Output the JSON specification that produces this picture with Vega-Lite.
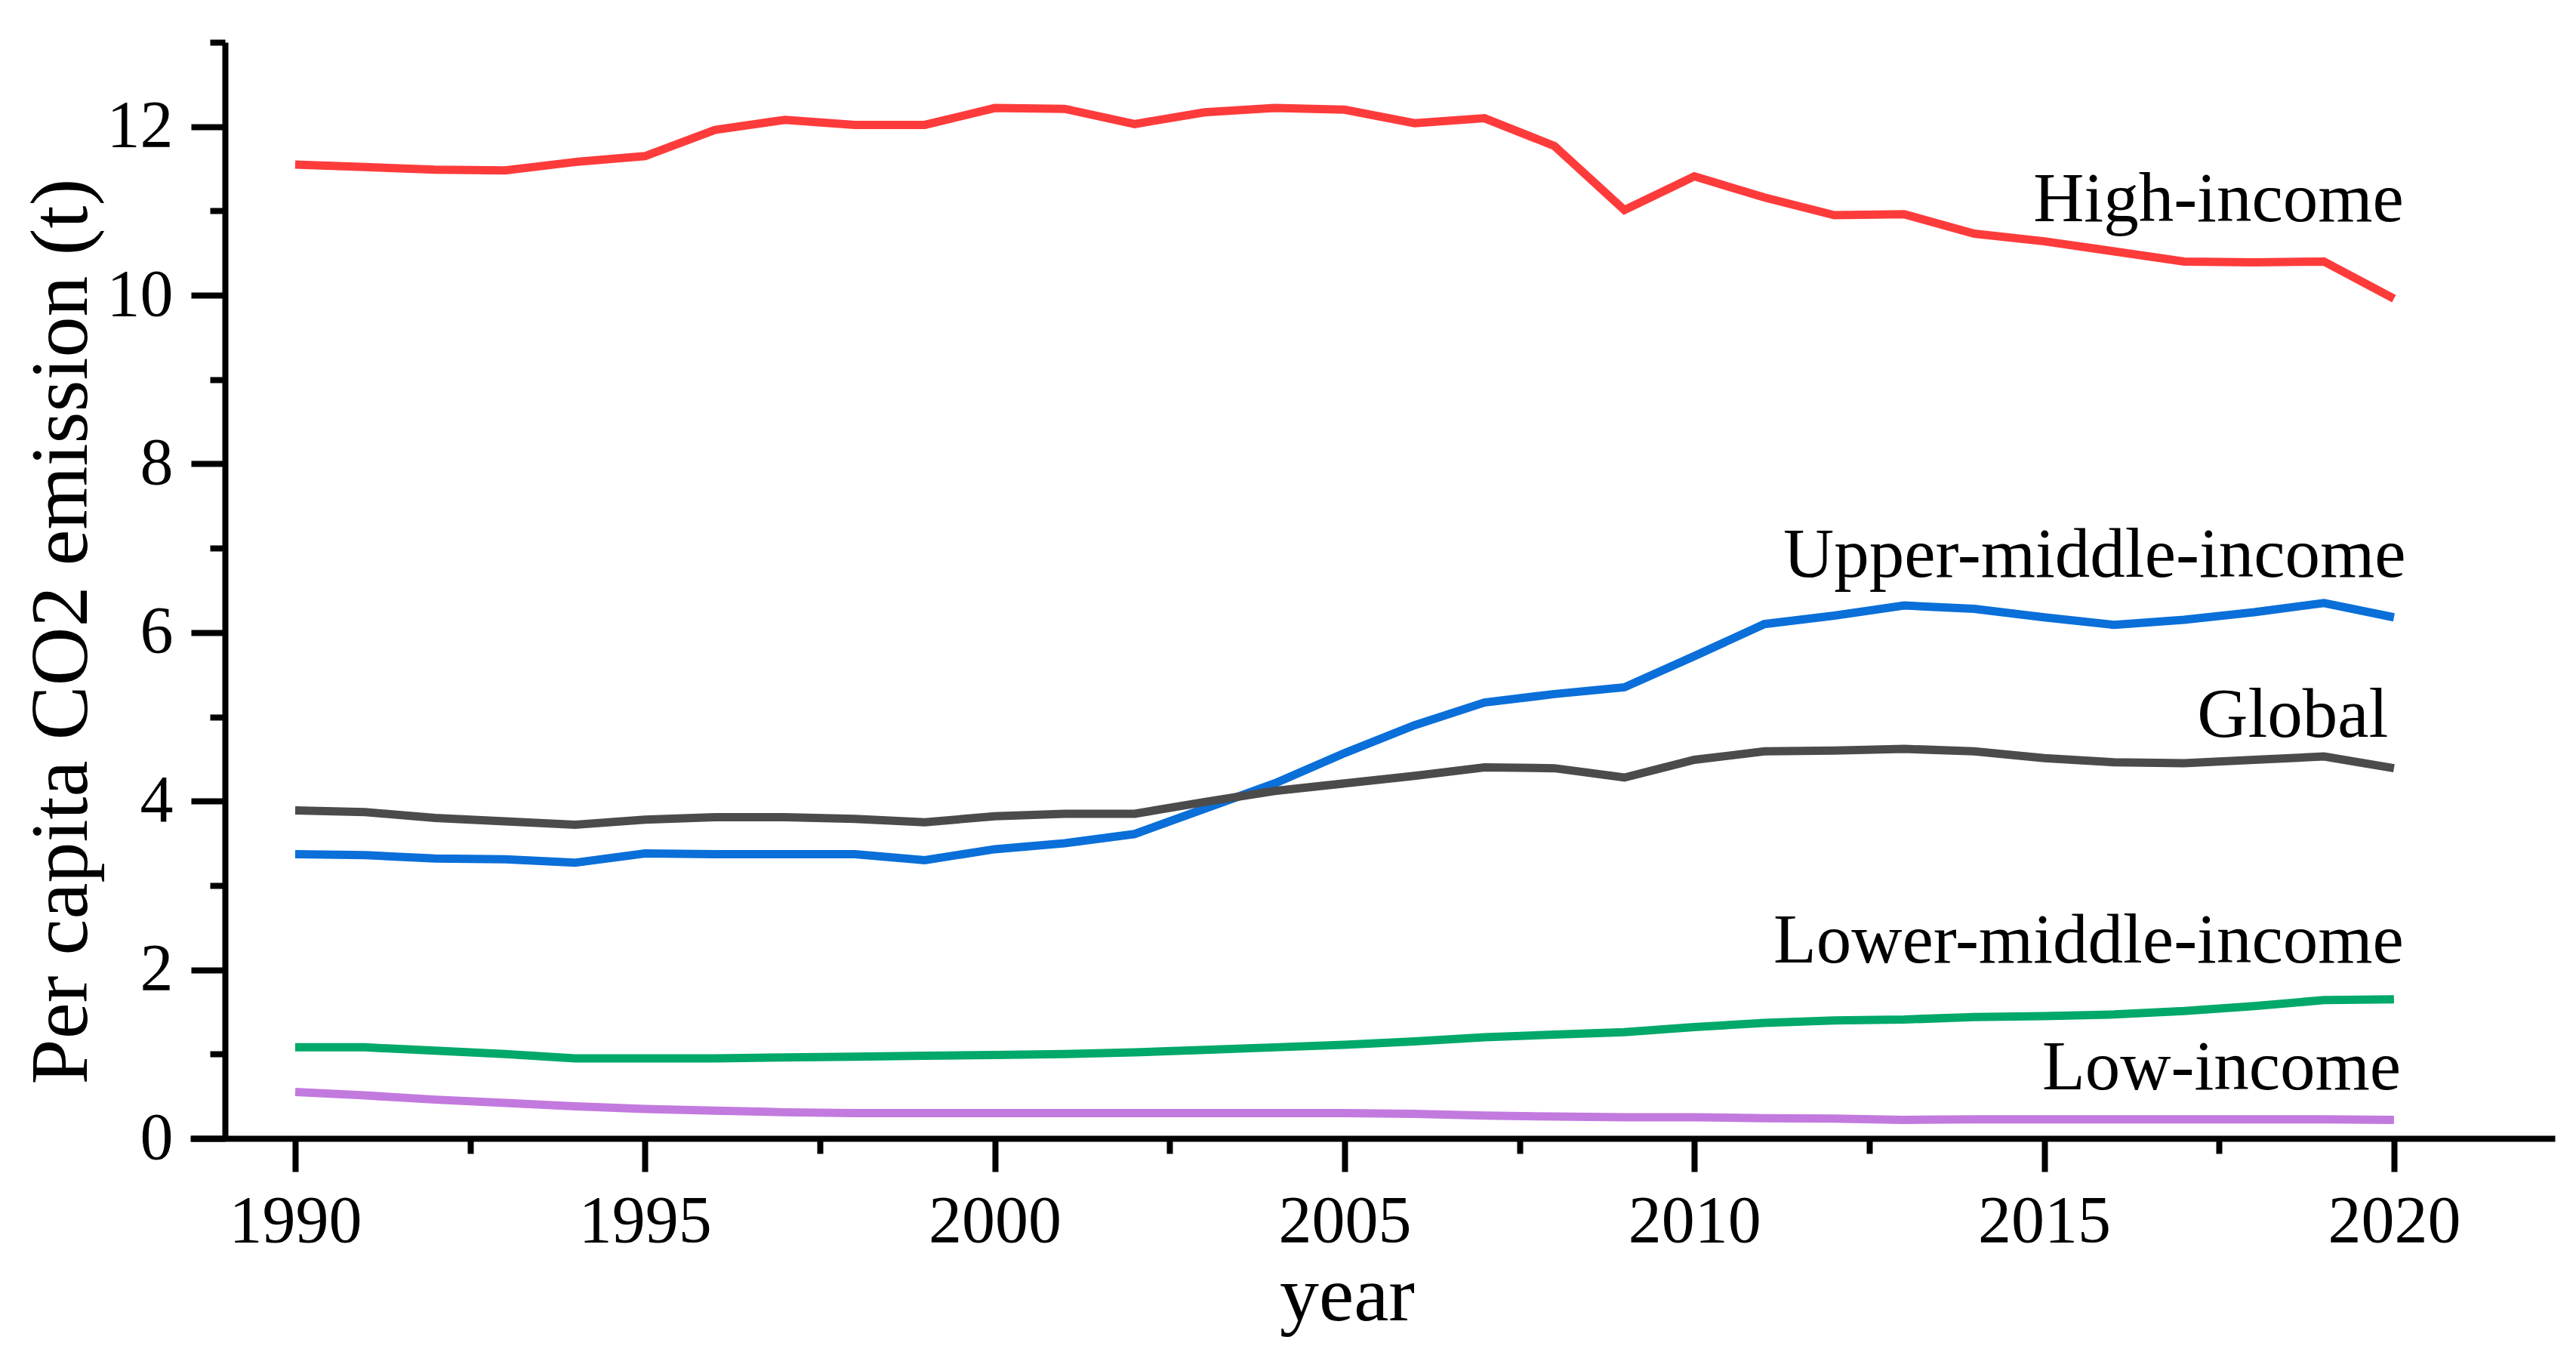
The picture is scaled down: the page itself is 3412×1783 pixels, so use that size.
{
"$schema": "https://vega.github.io/schema/vega-lite/v6.json",
"width": 3132, "height": 1452,
"autosize": {"type": "none"},
"padding": {"left": 252, "top": 56, "right": 28, "bottom": 275},
"background": "white",
"config": {"view": {"stroke": null}, "font": "Liberation Serif"},
"datasets": {
"series": [
{"year":1990,"group":"High-income","value":11.55},{"year":1991,"group":"High-income","value":11.52},{"year":1992,"group":"High-income","value":11.49},{"year":1993,"group":"High-income","value":11.48},{"year":1994,"group":"High-income","value":11.58},{"year":1995,"group":"High-income","value":11.65},{"year":1996,"group":"High-income","value":11.96},{"year":1997,"group":"High-income","value":12.08},{"year":1998,"group":"High-income","value":12.02},{"year":1999,"group":"High-income","value":12.02},{"year":2000,"group":"High-income","value":12.22},{"year":2001,"group":"High-income","value":12.21},{"year":2002,"group":"High-income","value":12.03},{"year":2003,"group":"High-income","value":12.17},{"year":2004,"group":"High-income","value":12.22},{"year":2005,"group":"High-income","value":12.20},{"year":2006,"group":"High-income","value":12.04},{"year":2007,"group":"High-income","value":12.10},{"year":2008,"group":"High-income","value":11.77},{"year":2009,"group":"High-income","value":11.01},{"year":2010,"group":"High-income","value":11.41},{"year":2011,"group":"High-income","value":11.16},{"year":2012,"group":"High-income","value":10.95},{"year":2013,"group":"High-income","value":10.96},{"year":2014,"group":"High-income","value":10.73},{"year":2015,"group":"High-income","value":10.64},{"year":2016,"group":"High-income","value":10.52},{"year":2017,"group":"High-income","value":10.40},{"year":2018,"group":"High-income","value":10.39},{"year":2019,"group":"High-income","value":10.40},{"year":2020,"group":"High-income","value":9.96},
{"year":1990,"group":"Upper-middle-income","value":3.37},{"year":1991,"group":"Upper-middle-income","value":3.36},{"year":1992,"group":"Upper-middle-income","value":3.32},{"year":1993,"group":"Upper-middle-income","value":3.31},{"year":1994,"group":"Upper-middle-income","value":3.27},{"year":1995,"group":"Upper-middle-income","value":3.38},{"year":1996,"group":"Upper-middle-income","value":3.37},{"year":1997,"group":"Upper-middle-income","value":3.37},{"year":1998,"group":"Upper-middle-income","value":3.37},{"year":1999,"group":"Upper-middle-income","value":3.30},{"year":2000,"group":"Upper-middle-income","value":3.43},{"year":2001,"group":"Upper-middle-income","value":3.50},{"year":2002,"group":"Upper-middle-income","value":3.61},{"year":2003,"group":"Upper-middle-income","value":3.91},{"year":2004,"group":"Upper-middle-income","value":4.21},{"year":2005,"group":"Upper-middle-income","value":4.57},{"year":2006,"group":"Upper-middle-income","value":4.90},{"year":2007,"group":"Upper-middle-income","value":5.17},{"year":2008,"group":"Upper-middle-income","value":5.27},{"year":2009,"group":"Upper-middle-income","value":5.35},{"year":2010,"group":"Upper-middle-income","value":5.72},{"year":2011,"group":"Upper-middle-income","value":6.10},{"year":2012,"group":"Upper-middle-income","value":6.20},{"year":2013,"group":"Upper-middle-income","value":6.32},{"year":2014,"group":"Upper-middle-income","value":6.28},{"year":2015,"group":"Upper-middle-income","value":6.18},{"year":2016,"group":"Upper-middle-income","value":6.09},{"year":2017,"group":"Upper-middle-income","value":6.15},{"year":2018,"group":"Upper-middle-income","value":6.24},{"year":2019,"group":"Upper-middle-income","value":6.35},{"year":2020,"group":"Upper-middle-income","value":6.18},
{"year":1990,"group":"Global","value":3.89},{"year":1991,"group":"Global","value":3.87},{"year":1992,"group":"Global","value":3.80},{"year":1993,"group":"Global","value":3.76},{"year":1994,"group":"Global","value":3.72},{"year":1995,"group":"Global","value":3.78},{"year":1996,"group":"Global","value":3.81},{"year":1997,"group":"Global","value":3.81},{"year":1998,"group":"Global","value":3.79},{"year":1999,"group":"Global","value":3.75},{"year":2000,"group":"Global","value":3.82},{"year":2001,"group":"Global","value":3.85},{"year":2002,"group":"Global","value":3.85},{"year":2003,"group":"Global","value":3.99},{"year":2004,"group":"Global","value":4.12},{"year":2005,"group":"Global","value":4.21},{"year":2006,"group":"Global","value":4.30},{"year":2007,"group":"Global","value":4.40},{"year":2008,"group":"Global","value":4.39},{"year":2009,"group":"Global","value":4.28},{"year":2010,"group":"Global","value":4.49},{"year":2011,"group":"Global","value":4.59},{"year":2012,"group":"Global","value":4.60},{"year":2013,"group":"Global","value":4.62},{"year":2014,"group":"Global","value":4.59},{"year":2015,"group":"Global","value":4.51},{"year":2016,"group":"Global","value":4.46},{"year":2017,"group":"Global","value":4.45},{"year":2018,"group":"Global","value":4.49},{"year":2019,"group":"Global","value":4.53},{"year":2020,"group":"Global","value":4.39},
{"year":1990,"group":"Lower-middle-income","value":1.08},{"year":1991,"group":"Lower-middle-income","value":1.08},{"year":1992,"group":"Lower-middle-income","value":1.04},{"year":1993,"group":"Lower-middle-income","value":1.00},{"year":1994,"group":"Lower-middle-income","value":0.95},{"year":1995,"group":"Lower-middle-income","value":0.95},{"year":1996,"group":"Lower-middle-income","value":0.95},{"year":1997,"group":"Lower-middle-income","value":0.96},{"year":1998,"group":"Lower-middle-income","value":0.97},{"year":1999,"group":"Lower-middle-income","value":0.98},{"year":2000,"group":"Lower-middle-income","value":0.99},{"year":2001,"group":"Lower-middle-income","value":1.00},{"year":2002,"group":"Lower-middle-income","value":1.02},{"year":2003,"group":"Lower-middle-income","value":1.05},{"year":2004,"group":"Lower-middle-income","value":1.08},{"year":2005,"group":"Lower-middle-income","value":1.11},{"year":2006,"group":"Lower-middle-income","value":1.15},{"year":2007,"group":"Lower-middle-income","value":1.20},{"year":2008,"group":"Lower-middle-income","value":1.23},{"year":2009,"group":"Lower-middle-income","value":1.26},{"year":2010,"group":"Lower-middle-income","value":1.32},{"year":2011,"group":"Lower-middle-income","value":1.37},{"year":2012,"group":"Lower-middle-income","value":1.40},{"year":2013,"group":"Lower-middle-income","value":1.41},{"year":2014,"group":"Lower-middle-income","value":1.44},{"year":2015,"group":"Lower-middle-income","value":1.45},{"year":2016,"group":"Lower-middle-income","value":1.47},{"year":2017,"group":"Lower-middle-income","value":1.51},{"year":2018,"group":"Lower-middle-income","value":1.57},{"year":2019,"group":"Lower-middle-income","value":1.64},{"year":2020,"group":"Lower-middle-income","value":1.65},
{"year":1990,"group":"Low-income","value":0.55},{"year":1991,"group":"Low-income","value":0.51},{"year":1992,"group":"Low-income","value":0.46},{"year":1993,"group":"Low-income","value":0.42},{"year":1994,"group":"Low-income","value":0.38},{"year":1995,"group":"Low-income","value":0.35},{"year":1996,"group":"Low-income","value":0.33},{"year":1997,"group":"Low-income","value":0.31},{"year":1998,"group":"Low-income","value":0.30},{"year":1999,"group":"Low-income","value":0.30},{"year":2000,"group":"Low-income","value":0.30},{"year":2001,"group":"Low-income","value":0.30},{"year":2002,"group":"Low-income","value":0.30},{"year":2003,"group":"Low-income","value":0.30},{"year":2004,"group":"Low-income","value":0.30},{"year":2005,"group":"Low-income","value":0.30},{"year":2006,"group":"Low-income","value":0.29},{"year":2007,"group":"Low-income","value":0.27},{"year":2008,"group":"Low-income","value":0.26},{"year":2009,"group":"Low-income","value":0.25},{"year":2010,"group":"Low-income","value":0.25},{"year":2011,"group":"Low-income","value":0.24},{"year":2012,"group":"Low-income","value":0.235},{"year":2013,"group":"Low-income","value":0.22},{"year":2014,"group":"Low-income","value":0.225},{"year":2015,"group":"Low-income","value":0.225},{"year":2016,"group":"Low-income","value":0.225},{"year":2017,"group":"Low-income","value":0.225},{"year":2018,"group":"Low-income","value":0.225},{"year":2019,"group":"Low-income","value":0.225},{"year":2020,"group":"Low-income","value":0.22}
],
"labels": [
{"label":"High-income","year":2020.14,"value":10.88},
{"label":"Upper-middle-income","year":2020.17,"value":6.66},
{"label":"Global","year":2019.92,"value":4.76},
{"label":"Lower-middle-income","year":2020.14,"value":2.09},
{"label":"Low-income","year":2020.10,"value":0.585}
]
},
"layer": [
{
"data": {"name": "series"},
"mark": {"type": "line", "strokeWidth": 11},
"encoding": {
"x": {"field": "year", "type": "quantitative",
 "scale": {"domain": [1988.5, 2022.3], "nice": false, "zero": false},
 "axis": {"title": "year", "grid": false,
  "values": [1990, 1992.5, 1995, 1997.5, 2000, 2002.5, 2005, 2007.5, 2010, 2012.5, 2015, 2017.5, 2020],
  "labelExpr": "datum.value % 5 === 0 ? format(datum.value, 'd') : ''",
  "tickSize": {"condition": {"test": "datum.value % 5 === 0", "value": 44}, "value": 20},
  "tickWidth": 8, "tickColor": "black", "domainWidth": 8, "domainColor": "black",
  "labelFont": "Liberation Serif", "labelFontSize": 88, "labelColor": "black", "labelPadding": 22,
  "labelFlush": false, "labelOverlap": false,
  "titleFont": "Liberation Serif", "titleFontSize": 104, "titleFontWeight": "normal", "titleColor": "black",
  "titleX": 1532, "titleY": 240, "titleBaseline": "alphabetic", "titleAlign": "center"}},
"y": {"field": "value", "type": "quantitative",
 "scale": {"domain": [0, 13], "nice": false},
 "axis": {"title": "Per capita CO2 emission (t)", "grid": false, "offset": -46,
  "values": [0,1,2,3,4,5,6,7,8,9,10,11,12,13],
  "labelExpr": "datum.value % 2 === 0 ? format(datum.value, 'd') : ''",
  "tickSize": {"condition": {"test": "datum.value % 2 === 0", "value": 45}, "value": 20},
  "tickWidth": 8, "tickColor": "black", "domainWidth": 8, "domainColor": "black",
  "labelFont": "Liberation Serif", "labelFontSize": 88, "labelColor": "black", "labelPadding": 24,
  "labelFlush": false, "labelOverlap": false,
  "titleFont": "Liberation Serif", "titleFontSize": 108, "titleFontWeight": "normal", "titleColor": "black",
  "titleX": -216, "titleY": 780, "titleBaseline": "middle", "titleAlign": "center", "titleAngle": -90}},
"color": {"field": "group", "type": "nominal",
 "scale": {"domain": ["High-income", "Upper-middle-income", "Global", "Lower-middle-income", "Low-income"],
  "range": ["#FE3B3B", "#0A6FD8", "#4B4B4B", "#00A86A", "#C27ADF"]},
 "legend": null}
}
},
{
"data": {"name": "labels"},
"mark": {"type": "text", "align": "right", "baseline": "alphabetic", "fontSize": 93, "font": "Liberation Serif", "color": "black"},
"encoding": {
"x": {"field": "year", "type": "quantitative"},
"y": {"field": "value", "type": "quantitative"},
"text": {"field": "label"}
}
}
]
}
